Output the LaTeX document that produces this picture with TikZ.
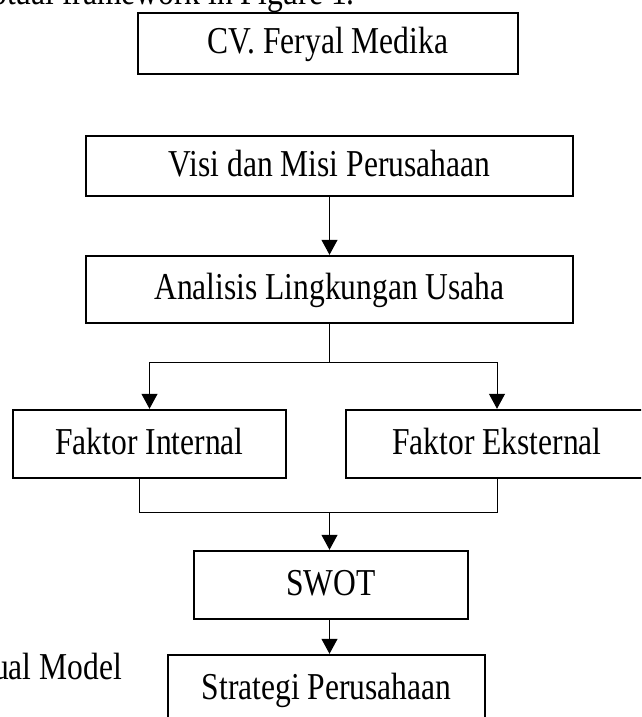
\documentclass[tikz,border=0pt]{standalone}
\usepackage{fontspec}
\setmainfont{Liberation Serif}[FakeStretch=0.83]
\usetikzlibrary{arrows.meta}
\begin{document}
\begin{tikzpicture}[x=1pt,y=-1pt,
  bigfont/.style={font=\fontsize{38}{44}\selectfont},
  box/.style={draw,line width=2.4pt,rectangle,inner sep=0pt,bigfont,text height=25pt,text depth=5pt},
  conn/.style={line width=1pt},
  arr/.style={-{Triangle[length=15pt,width=16pt]}},
  plain/.style={inner sep=0pt,bigfont}]
\useasboundingbox (0,0) rectangle (641,717);
\clip (0,0) rectangle (641,717);
% text fragments
\node[plain,anchor=base east] (hdr) at (355,5) {otual framework in Figure 1.};
\node[plain,anchor=base east] (cap) at (122,679) {ual Model};
% boxes
\node[box,minimum width=380pt,minimum height=61pt] (cv) at (328,43.5) {CV. Feryal Medika};
\node[box,minimum width=487pt,minimum height=60pt] (visi) at (329.5,166) {Visi dan Misi Perusahaan};
\node[box,minimum width=487pt,minimum height=67pt] (anal) at (329.5,289.5) {Analisis Lingkungan Usaha};
\node[box,minimum width=273pt,minimum height=68pt] (fi) at (149.5,444) {Faktor Internal};
\node[box,minimum width=302pt,minimum height=68pt] (fe) at (497,444) {Faktor Eksternal};
\node[box,minimum width=274pt,minimum height=68pt] (swot) at (331,585) {SWOT};
\node[box,minimum width=317pt,minimum height=68pt] (strat) at (326.5,689) {Strategi Perusahaan};
% junction coordinates
\coordinate (b1) at (329.5,362);
\coordinate (jl) at (139,512);
\coordinate (jr) at (497,512);
\coordinate (jm) at (329.5,512);
% connectors
\draw[conn,arr] (visi.south) -- (anal.north);
\draw[conn] (anal.south) -- (b1);
\draw[conn,arr] (b1) -| (fi.north);
\draw[conn,arr] (b1) -| (fe.north);
\draw[conn] (fi.south -| jl) -- (jl) -- (jr) -- (fe.south);
\draw[conn,arr] (jm) -- (jm |- swot.north);
\draw[conn,arr] (jm |- swot.south) -- (jm |- strat.north);
\end{tikzpicture}
\end{document}
